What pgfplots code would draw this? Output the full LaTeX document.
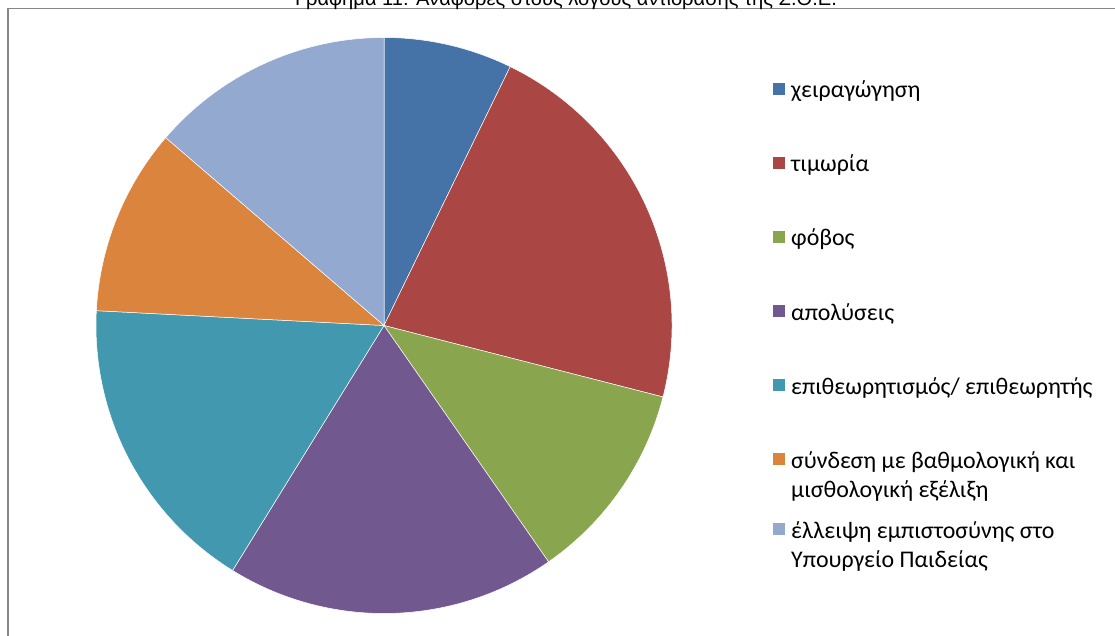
\documentclass[border=0pt]{standalone}
\usepackage{pgfplots}
\pgfplotsset{compat=1.18}
\usepackage{pgfplotstable}
\usepackage{fontspec}
\setmainfont{Carlito}
\newfontfamily\titlefont{Liberation Sans}

\definecolor{c1}{HTML}{4572A7}
\definecolor{c2}{HTML}{AA4643}
\definecolor{c3}{HTML}{89A54E}
\definecolor{c4}{HTML}{71588F}
\definecolor{c5}{HTML}{4198AF}
\definecolor{c6}{HTML}{DB843D}
\definecolor{c7}{HTML}{93A9CF}
\definecolor{frame}{HTML}{868686}

% shares of the answers (per cent) and slice colours
\pgfplotstableread{
value color
7.22  c1
21.77 c2
11.33 c3
18.49 c4
17.01 c5
10.49 c6
13.69 c7
}\piedata

\begin{document}
\begin{tikzpicture}
\clip (0,0) rectangle (1115bp,636bp);
\useasboundingbox (0,0) rectangle (1115bp,636bp);
\begin{axis}[
  at={(0,0)}, anchor=south west,
  x=1bp, y=1bp,
  xmin=0, xmax=1115, ymin=0, ymax=636,
  hide axis, clip=false]

% chart frame
\draw[frame, line width=1.6bp] (axis cs:7.8,-20) -- (axis cs:7.8,627.4) -- (axis cs:1200,627.4);

% pie slices, clockwise from the top
\pgfplotstablegetrowsof{\piedata}
\pgfmathtruncatemacro\lastrow{\pgfplotsretval-1}
\def\cum{0}
\pgfplotsforeachungrouped \i in {0,...,\lastrow}{%
  \pgfplotstablegetelem{\i}{value}\of\piedata
  \let\val\pgfplotsretval
  \pgfplotstablegetelem{\i}{color}\of\piedata
  \let\col\pgfplotsretval
  \pgfmathsetmacro\angA{90-3.6*\cum}%
  \pgfmathsetmacro\angB{90-3.6*(\cum+\val)}%
  \edef\pieslice{\noexpand\fill[fill=\col, draw=white, line width=0.5bp]
    (axis cs:384,310.5) -- ++(\angA:288bp)
    arc[start angle=\angA, end angle=\angB, radius=288bp] -- cycle;}%
  \pieslice
  \pgfmathsetmacro\cum{\cum+\val}%
}

% title
\node[anchor=base, inner sep=0, font=\titlefont\fontsize{20.2}{24}\selectfont]
  at (axis cs:566,630) {Γράφημα 11: Αναφορές στους λόγους αντίδρασης της Σ.Ο.Ε.};

% legend
\tikzset{legtext/.style={anchor=base west, inner sep=0, font=\fontsize{24}{29}\selectfont}}
\fill[c1] (axis cs:772.5,540.75) rectangle (axis cs:785,553.25);
\node[legtext] at (axis cs:791,538) {χειραγώγηση};
\fill[c2] (axis cs:772.5,466.75) rectangle (axis cs:785,479.25);
\node[legtext] at (axis cs:791,464) {τιμωρία};
\fill[c3] (axis cs:772.5,392.75) rectangle (axis cs:785,405.25);
\node[legtext] at (axis cs:791,390) {φόβος};
\fill[c4] (axis cs:772.5,318.75) rectangle (axis cs:785,331.25);
\node[legtext] at (axis cs:791,316) {απολύσεις};
\fill[c5] (axis cs:772.5,244.75) rectangle (axis cs:785,257.25);
\node[legtext] at (axis cs:791,242) {επιθεωρητισμός/ επιθεωρητής};
\fill[c6] (axis cs:772.5,170.75) rectangle (axis cs:785,183.25);
\node[legtext] at (axis cs:791,168) {σύνδεση με βαθμολογική και};
\node[legtext] at (axis cs:791,139) {μισθολογική εξέλιξη};
\fill[c7] (axis cs:772.5,100.75) rectangle (axis cs:785,113.25);
\node[legtext] at (axis cs:791,98) {έλλειψη εμπιστοσύνης στο};
\node[legtext] at (axis cs:791,69) {Υπουργείο Παιδείας};
\end{axis}
\end{tikzpicture}
\end{document}
